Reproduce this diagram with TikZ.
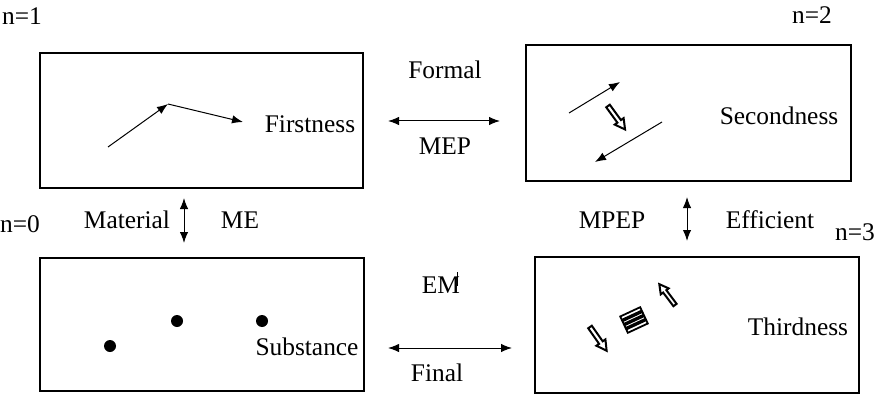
\documentclass[tikz,border=0pt]{standalone}
\usepackage{fontspec}
\setmainfont{Liberation Serif}
\usetikzlibrary{arrows.meta}
\begin{document}
\begin{tikzpicture}[x=0.5pt,y=-0.5pt,
  frame/.style={draw, line width=0.8pt, inner sep=0pt},
  lbl/.style={font=\fontsize{12.7}{15}\selectfont, inner sep=0pt},
  arr/.style={line width=0.5pt, -{Latex[length=5.5pt,width=4.2pt]}},
  darr/.style={line width=0.5pt, {Latex[length=5.5pt,width=4.2pt]}-{Latex[length=5.5pt,width=4.2pt]}},
  dot/.style={circle, fill, inner sep=0pt, minimum size=6pt},
  hollow/.pic={\draw[line width=1pt, line join=miter]
      (0,-2.2) -- (19,-2.2) -- (19,-5.5) -- (29,0) -- (19,5.5) -- (19,2.2) -- (0,2.2) -- cycle;},
  hatch/.pic={\draw[line width=0.9pt] (-11,-9) rectangle (11,9);
      \foreach \s in {-4.5,0,4.5} \draw[line width=1.7pt] (-11,\s) -- (11,\s);},
]
\useasboundingbox (0,0) rectangle (881,395);

% the four boxes
\node[frame, minimum width=161.5pt, minimum height=67.5pt] (first)  at (201.5,120.5) {};
\node[frame, minimum width=162.5pt, minimum height=68pt]   (second) at (688.5,113) {};
\node[frame, minimum width=162pt,   minimum height=66.5pt] (subst)  at (202,324.5) {};
\node[frame, minimum width=162pt,   minimum height=68pt]   (third)  at (697,325) {};

% box titles
\node[lbl] (tFirst)  at (310,124) {Firstness};
\node[lbl] (tSecond) at (779,116) {Secondness};
\node[lbl] (tSubst)  at (307,347) {Substance};
\node[lbl] (tThird)  at (798,327) {Thirdness};

% level labels
\node[lbl] (n1) at (22,16)  {n=1};
\node[lbl] (n2) at (812,15) {n=2};
\node[lbl] (n0) at (20,224) {n=0};
\node[lbl] (n3) at (855,232) {n=3};

% causal labels
\node[lbl] (formal)   at (445,70)  {Formal};
\node[lbl] (mep)      at (445,146) {MEP};
\node[lbl] (em)       at (441,285) {EM};
\node[lbl] (final)    at (437,373) {Final};
\node[lbl] (material) at (127,220) {Material};
\node[lbl] (me)       at (240,220) {ME};
\node[lbl] (mpep)     at (612,220) {MPEP};
\node[lbl] (effic)    at (770,220) {Efficient};
\coordinate (tk1) at (457.5,272); \coordinate (tk2) at (457.5,286);
\draw[line width=0.5pt] (tk1) -- (tk2);

% double-headed connectors between the boxes
\coordinate (hA1) at (388,121); \coordinate (hA2) at (500,121);
\coordinate (hB1) at (388,348); \coordinate (hB2) at (512,348);
\coordinate (vA1) at (184,198); \coordinate (vA2) at (184,243);
\coordinate (vB1) at (687,197); \coordinate (vB2) at (687,241);
\draw[darr] (hA1) -- (hA2);
\draw[darr] (hB1) -- (hB2);
\draw[darr] (vA1) -- (vA2);
\draw[darr] (vB1) -- (vB2);

% Firstness: bent arrow
\coordinate (f1) at (108,147); \coordinate (f2) at (168,104); \coordinate (f3) at (243,122);
\draw[arr] (f1) -- (f2);
\draw[arr] (f2) -- (f3);

% Secondness: opposite arrows and a hollow arrow
\coordinate (s1) at (569,113); \coordinate (s2) at (620,82);
\coordinate (s3) at (662,122); \coordinate (s4) at (595,162);
\draw[arr] (s1) -- (s2);
\draw[arr] (s3) -- (s4);
\pic[rotate=-54] at (608,106) {hollow};

% Substance: three dots
\node[dot] (d1) at (110,346) {};
\node[dot] (d2) at (177,321) {};
\node[dot] (d3) at (262,321) {};

% Thirdness: hollow arrows and hatched block
\pic[rotate=-55] at (590,327) {hollow};
\pic[rotate=25] at (634,320) {hatch};
\pic[rotate=127, scale=0.9] at (675,305) {hollow};
\end{tikzpicture}
\end{document}
